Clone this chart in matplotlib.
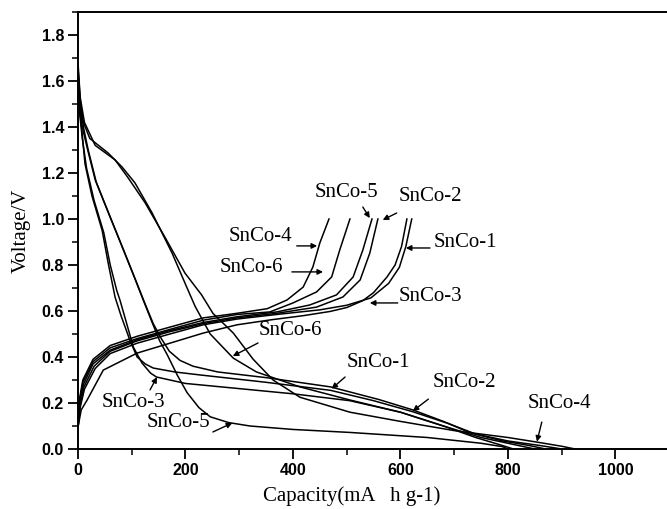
import matplotlib
matplotlib.use("Agg")
import matplotlib.pyplot as plt
from matplotlib.ticker import MultipleLocator

# ---------------- data (capacity mAh/g, voltage V) ----------------
samples = ["SnCo-1", "SnCo-2", "SnCo-3", "SnCo-4", "SnCo-5", "SnCo-6"]

# discharge curves
dis1_c = [0, 4, 10, 19, 34, 58, 84, 108, 125, 140, 155, 170, 190, 214, 260, 351, 470, 560, 623, 680, 730, 790, 840, 870]
dis1_v = [1.64, 1.50, 1.40, 1.30, 1.16, 1.02, 0.87, 0.73, 0.63, 0.545, 0.48, 0.425, 0.385, 0.36, 0.335, 0.31, 0.27, 0.215, 0.17, 0.12, 0.07, 0.035, 0.015, 0.0]

dis2_c = [0, 3, 7, 13, 26, 45, 56, 69, 80, 97, 110, 125, 140, 180, 227, 350, 470, 550, 623, 690, 740, 800, 860, 900]
dis2_v = [1.60, 1.48, 1.39, 1.24, 1.10, 0.95, 0.81, 0.66, 0.58, 0.47, 0.40, 0.37, 0.352, 0.335, 0.322, 0.29, 0.255, 0.21, 0.162, 0.11, 0.065, 0.035, 0.015, 0.0]

dis3_c = [0, 3, 8, 16, 30, 48, 60, 72, 78, 90, 103, 119, 135, 146, 200, 289, 400, 506, 600, 680, 740, 790, 810]
dis3_v = [1.58, 1.46, 1.35, 1.22, 1.08, 0.94, 0.80, 0.69, 0.648, 0.55, 0.443, 0.374, 0.33, 0.313, 0.285, 0.265, 0.24, 0.21, 0.16, 0.10, 0.05, 0.015, 0.0]

dis4_c = [0, 4, 12, 32, 69, 93, 125, 162, 199, 230, 251, 289, 326, 363, 413, 506, 600, 700, 800, 854, 900, 925]
dis4_v = [1.68, 1.53, 1.42, 1.32, 1.257, 1.18, 1.07, 0.92, 0.765, 0.67, 0.59, 0.504, 0.39, 0.30, 0.225, 0.16, 0.12, 0.08, 0.05, 0.03, 0.012, 0.0]

dis5_c = [0, 3, 8, 17, 32, 56, 82, 106, 121, 138, 152, 166, 185, 203, 225, 246, 280, 320, 400, 506, 650, 750, 790, 800]
dis5_v = [1.62, 1.50, 1.40, 1.31, 1.17, 1.03, 0.88, 0.74, 0.65, 0.55, 0.47, 0.41, 0.32, 0.245, 0.18, 0.14, 0.115, 0.10, 0.085, 0.072, 0.05, 0.025, 0.01, 0.0]

dis6_c = [0, 4, 10, 22, 56, 82, 106, 138, 175, 203, 218, 246, 289, 332, 413, 506, 600, 680, 750, 810, 850]
dis6_v = [1.66, 1.52, 1.42, 1.35, 1.287, 1.226, 1.157, 1.026, 0.852, 0.70, 0.62, 0.50, 0.395, 0.335, 0.27, 0.213, 0.16, 0.10, 0.05, 0.02, 0.0]

# charge curves
chg1_c = [0, 4, 12, 32, 60, 110, 171, 233, 296, 370, 450, 500, 545, 578, 598, 610, 621]
chg1_v = [0.09, 0.18, 0.26, 0.35, 0.415, 0.46, 0.50, 0.54, 0.565, 0.585, 0.605, 0.625, 0.657, 0.72, 0.79, 0.88, 1.0]

chg2_c = [0, 4, 11, 30, 60, 110, 171, 233, 296, 370, 444, 493, 525, 543, 558]
chg2_v = [0.095, 0.19, 0.27, 0.36, 0.425, 0.47, 0.51, 0.545, 0.57, 0.59, 0.617, 0.661, 0.735, 0.852, 1.0]

chg3_c = [0, 6, 17, 47, 110, 171, 233, 296, 357, 420, 469, 500, 530, 550, 575, 590, 602, 612]
chg3_v = [0.096, 0.17, 0.213, 0.343, 0.417, 0.46, 0.504, 0.54, 0.561, 0.58, 0.598, 0.615, 0.645, 0.68, 0.748, 0.80, 0.88, 1.0]

chg4_c = [0, 3, 9, 28, 60, 110, 171, 233, 296, 352, 389, 419, 437, 450, 467]
chg4_v = [0.11, 0.22, 0.30, 0.39, 0.45, 0.49, 0.53, 0.57, 0.59, 0.61, 0.648, 0.704, 0.791, 0.896, 1.0]

chg5_c = [0, 3, 10, 28, 60, 110, 171, 233, 296, 370, 431, 481, 512, 530, 547]
chg5_v = [0.10, 0.20, 0.28, 0.37, 0.43, 0.475, 0.515, 0.55, 0.575, 0.596, 0.626, 0.67, 0.748, 0.865, 1.0]

chg6_c = [0, 3, 9, 28, 60, 110, 171, 233, 296, 357, 400, 444, 472, 487, 506]
chg6_v = [0.10, 0.21, 0.29, 0.38, 0.44, 0.48, 0.52, 0.56, 0.585, 0.596, 0.635, 0.683, 0.748, 0.865, 1.0]

x_ticks = [0, 200, 400, 600, 800, 1000]
y_ticks = [0.0, 0.2, 0.4, 0.6, 0.8, 1.0, 1.2, 1.4, 1.6, 1.8]

discharge = [(dis1_c, dis1_v), (dis2_c, dis2_v), (dis3_c, dis3_v),
             (dis4_c, dis4_v), (dis5_c, dis5_v), (dis6_c, dis6_v)]
charge = [(chg1_c, chg1_v), (chg2_c, chg2_v), (chg3_c, chg3_v),
          (chg4_c, chg4_v), (chg5_c, chg5_v), (chg6_c, chg6_v)]

# label text position, arrow tail, arrow tip (data coords)
charge_labels = {
    "SnCo-4": ((340, 0.922), (407, 0.883), (445, 0.883)),
    "SnCo-6": ((322, 0.791), (398, 0.77), (456, 0.77)),
    "SnCo-5": ((499, 1.117), (530, 1.052), (543, 1.004)),
    "SnCo-2": ((655, 1.096), (593, 1.026), (567, 0.996)),
    "SnCo-1": ((721, 0.896), (655, 0.874), (610, 0.874)),
    "SnCo-3": ((655, 0.661), (595, 0.635), (543, 0.635)),
}
discharge_labels = {
    "SnCo-6": ((395, 0.517), (335, 0.461), (288, 0.404)),
    "SnCo-3": ((104, 0.204), (134, 0.257), (147, 0.313)),
    "SnCo-5": ((187, 0.117), (251, 0.074), (287, 0.113)),
    "SnCo-1": ((559, 0.378), (497, 0.313), (472, 0.262)),
    "SnCo-2": ((719, 0.291), (652, 0.217), (623, 0.165)),
    "SnCo-4": ((896, 0.200), (863, 0.117), (854, 0.032)),
}

# ---------------- figure ----------------
fig = plt.figure(figsize=(6.67, 5.09), dpi=100)
ax = fig.add_axes([78 / 667, 60 / 509, 1 - 78 / 667, (449 - 12) / 509])

for c, v in discharge:
    ax.plot(c, v, color="black", lw=1.1)
for c, v in charge:
    ax.plot(c, v, color="black", lw=1.1)

serif = "Liberation Serif"
for labels in (charge_labels, discharge_labels):
    for name, (tpos, tail, tip) in labels.items():
        ax.text(tpos[0], tpos[1], name, fontsize=15, family=serif,
                ha="center", va="center")
        ax.annotate("", xy=tip, xytext=tail,
                    arrowprops=dict(arrowstyle="-|>", color="black", lw=1.0,
                                    mutation_scale=8, shrinkA=0, shrinkB=0))

ax.set_xlim(0, 1096)
ax.set_ylim(0, 1.9)
ax.set_xticks(x_ticks)
ax.set_yticks(y_ticks)
ax.set_xticklabels([str(t) for t in x_ticks])
ax.set_yticklabels([f"{t:.1f}" for t in y_ticks])
ax.xaxis.set_minor_locator(MultipleLocator(100))
ax.yaxis.set_minor_locator(MultipleLocator(0.1))
ax.tick_params(which="major", direction="out", length=7, width=1.3,
               labelsize=11.5, pad=3)
ax.tick_params(which="minor", direction="out", length=4, width=1.1)
for lab in ax.get_xticklabels() + ax.get_yticklabels():
    lab.set_family("Liberation Sans")
    lab.set_fontweight("bold")

ax.spines["right"].set_visible(False)
for s in ("left", "bottom", "top"):
    ax.spines[s].set_linewidth(1.4)

ax.set_xlabel("Capacity(mA   h g-1)", family=serif, fontsize=15)
ax.xaxis.set_label_coords(0.465, -0.085)
ax.set_ylabel("Voltage/V", family=serif, fontsize=15, labelpad=8)

fig.savefig("out.png", dpi=100)
